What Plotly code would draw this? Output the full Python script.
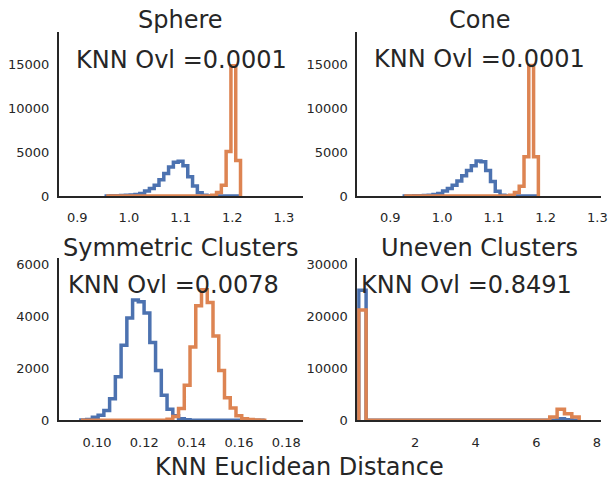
import numpy as np
import plotly.graph_objects as go

W, H = 615, 486
BLUE = "#4C72B0"
ORANGE = "#DD8452"
TXT = "#262626"
FONT = "DejaVu Sans"

# ---------------- data ----------------
titles = ["Sphere", "Cone", "Symmetric Clusters", "Uneven Clusters"]
ovl_labels = ["KNN Ovl =0.0001", "KNN Ovl =0.0001", "KNN Ovl =0.0078", "KNN Ovl =0.8491"]

# Sphere: 28 shared bins
sphere_bins = (0.956, 1.216, 28)
sphere_blue = [10, 20, 30, 50, 80, 120, 180, 300, 560, 850, 1230, 1860, 2550, 3300,
               3850, 3950, 3450, 2200, 1150, 380, 80, 15, 5, 0, 0, 0, 0, 0]
sphere_orange = [0, 0, 0, 0, 0, 0, 0, 0, 0, 0, 0, 0, 0, 0,
                 0, 0, 0, 0, 0, 0, 0, 10, 100, 400, 1230, 5070, 14840, 4030]

# Cone: 28 shared bins
cone_bins = (0.927, 1.186, 28)
cone_blue = [10, 15, 25, 40, 60, 100, 180, 300, 560, 850, 1230, 1700, 2300, 2900,
             3450, 4000, 3900, 2900, 1650, 550, 100, 15, 5, 0, 0, 0, 0, 0]
cone_orange = [0, 0, 0, 0, 0, 0, 0, 0, 0, 0, 0, 0, 0, 0,
               0, 0, 0, 0, 0, 0, 0, 10, 100, 400, 1100, 4480, 14850, 4480]

# Symmetric clusters: 32 shared bins
sym_bins = (0.09322, 0.17088, 32)
sym_blue = [10, 30, 120, 190, 380, 830, 1680, 2900, 3950, 4640, 4580, 4140, 3000, 1920,
            970, 430, 175, 60, 20, 5, 0, 0, 0, 0, 0, 0, 0, 0, 0, 0, 0, 0]
sym_orange = [0, 0, 0, 0, 0, 0, 0, 0, 0, 0, 0, 0, 0, 0,
              5, 40, 150, 450, 1350, 2830, 4420, 5040, 4550, 3250, 1920, 870, 470, 175,
              60, 30, 15, 5]

# Uneven clusters: 30 shared bins
uneven_bins = (0.135, 7.416, 30)
uneven_blue = [25100] + [0] * 26 + [300, 100, 0]
uneven_orange = [21300] + [0] * 25 + [620, 2140, 1250, 620]

x_ranges = [[0.864, 1.337], [0.836, 1.3077], [0.08385, 0.18707], [0.083, 8.15]]
x_ticks = [[0.9, 1.0, 1.1, 1.2, 1.3], [0.9, 1.0, 1.1, 1.2, 1.3],
           [0.10, 0.12, 0.14, 0.16, 0.18], [2, 4, 6, 8]]
x_ticktext = [["0.9", "1.0", "1.1", "1.2", "1.3"], ["0.9", "1.0", "1.1", "1.2", "1.3"],
              ["0.10", "0.12", "0.14", "0.16", "0.18"], ["2", "4", "6", "8"]]
y_ranges = [[0, 18615], [0, 18615], [0, 6266], [0, 31330]]
y_ticks = [[0, 5000, 10000, 15000], [0, 5000, 10000, 15000],
           [0, 2000, 4000, 6000], [0, 10000, 20000, 30000]]
y_ticktext = [["0", "5000", "10000", "15000"], ["0", "5000", "10000", "15000"],
              ["0", "2000", "4000", "6000"], ["0", "10000", "20000", "30000"]]
xlabel = "KNN Euclidean Distance"

panels = [
    (sphere_bins, sphere_blue, sphere_orange),
    (cone_bins, cone_blue, cone_orange),
    (sym_bins, sym_blue, sym_orange),
    (uneven_bins, uneven_blue, uneven_orange),
]

# ---------------- layout geometry (pixels) ----------------
xdom_px = [(59.3, 306.0), (360.7, 607.3), (59.3, 306.0), (360.7, 607.3)]
ydom_px = [(33.0, 199.3), (33.0, 199.3), (262.3, 427.3), (262.3, 427.3)]
title_y_px = [20, 20, 252, 252]
ovl_pos_px = [(75, 61), (376, 60), (66.7, 290), (362.3, 290)]


def step_xy(bins, counts):
    lo, hi, n = bins
    edges = np.linspace(lo, hi, n + 1)
    xs = [edges[0]] + list(edges)
    ys = [0] + list(counts) + [0]
    return xs, ys


fig = go.Figure()
layout = dict(
    width=W, height=H, margin=dict(l=0, r=0, t=0, b=0),
    paper_bgcolor="white", plot_bgcolor="white", showlegend=False,
    font=dict(family=FONT, color=TXT, size=13),
)
annotations = []

for i, (bins, blue, orange) in enumerate(panels):
    ax = "" if i == 0 else str(i + 1)
    xref, yref = "x" + ax, "y" + ax
    for counts, col in ((blue, BLUE), (orange, ORANGE)):
        xs, ys = step_xy(bins, counts)
        fig.add_trace(go.Scatter(x=xs, y=ys, mode="lines", line_shape="hv",
                                 line=dict(color=col, width=3.5),
                                 xaxis=xref, yaxis=yref, hoverinfo="skip"))
    x0, x1 = xdom_px[i]
    y0, y1 = ydom_px[i]
    layout["xaxis" + ax] = dict(
        domain=[x0 / W, x1 / W], range=x_ranges[i], anchor=yref,
        tickvals=x_ticks[i], ticktext=x_ticktext[i],
        showgrid=False, zeroline=False, showline=True, linecolor=TXT, linewidth=1.5,
        ticks="", ticklabelstandoff=9, tickfont=dict(size=13, color=TXT, family=FONT),
    )
    layout["yaxis" + ax] = dict(
        domain=[1 - y1 / H, 1 - y0 / H], range=y_ranges[i], anchor=xref,
        tickvals=y_ticks[i], ticktext=y_ticktext[i],
        showgrid=False, zeroline=False, showline=True, linecolor=TXT, linewidth=1.5,
        ticks="", ticklabelstandoff=5, tickfont=dict(size=13, color=TXT, family=FONT),
    )
    annotations.append(dict(text=titles[i], x=(x0 + x1) / 2 / W, y=1 - title_y_px[i] / H,
                            xref="paper", yref="paper", xanchor="center", yanchor="middle",
                            showarrow=False, font=dict(size=24, color=TXT, family=FONT)))
    px, py = ovl_pos_px[i]
    annotations.append(dict(text=ovl_labels[i], x=px / W, y=1 - py / H,
                            xref="paper", yref="paper", xanchor="left", yanchor="middle",
                            showarrow=False, font=dict(size=24, color=TXT, family=FONT)))

annotations.append(dict(text=xlabel, x=302 / W, y=1 - 475 / H, xref="paper", yref="paper",
                        xanchor="center", yanchor="middle", showarrow=False,
                        font=dict(size=24, color=TXT, family=FONT)))
layout["annotations"] = annotations
fig.update_layout(**layout)
fig.write_html("out.html")
